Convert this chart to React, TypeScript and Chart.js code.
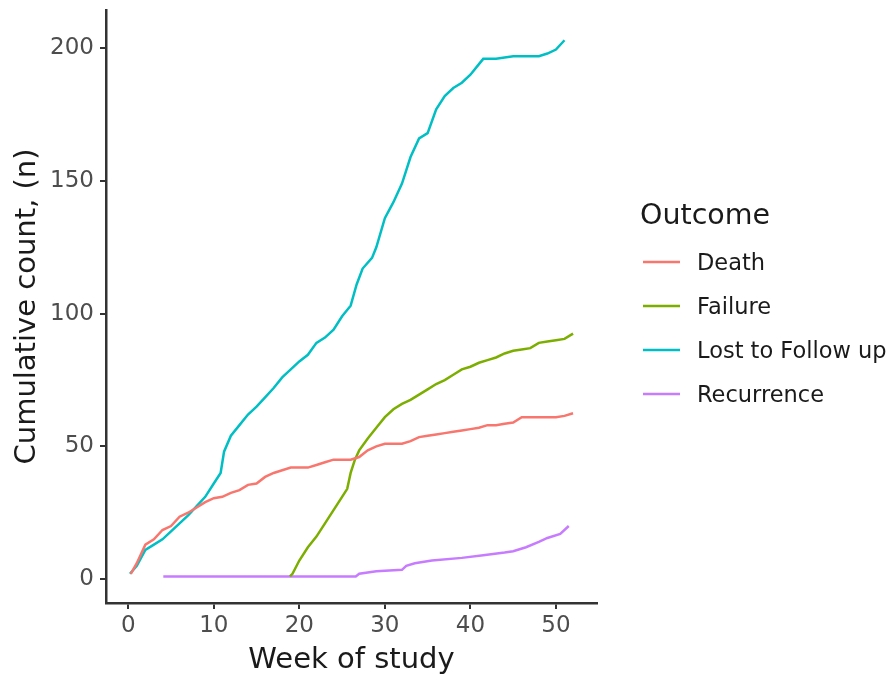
import React, { useEffect, useRef } from "react";
import { Chart, registerables } from "chart.js";

Chart.register(...registerables);

const deathWeeks = [0.3, 1, 2, 3, 4, 5, 6, 7, 8, 9, 10, 11, 12, 13, 14, 15, 16, 17, 18, 19, 20, 21, 22, 23, 24, 25, 26, 27, 28, 29, 30, 31, 32, 33, 34, 35, 36, 37, 38, 39, 40, 41, 42, 43, 44, 45, 46, 47, 48, 49, 50, 51, 52];
const deathCounts = [2, 6, 13, 15, 18.5, 20, 23.5, 25, 27, 29, 30.5, 31, 32.5, 33.5, 35.5, 36, 38.5, 40, 41, 42, 42, 42, 43, 44, 45, 45, 45, 46, 48.5, 50, 51, 51, 51, 52, 53.5, 54, 54.5, 55, 55.5, 56, 56.5, 57, 58, 58, 58.5, 59, 61, 61, 61, 61, 61, 61.5, 62.5];

const failureWeeks = [18.9, 19.2, 20, 21, 22, 23, 24, 25, 25.6, 26, 26.5, 27, 28, 29, 30, 31, 32, 33, 34, 35, 36, 37, 38, 39, 40, 41, 42, 43, 44, 45, 46, 47, 48, 49, 50, 51, 52];
const failureCounts = [1, 2, 7, 12, 16, 21, 26, 31, 34, 40, 45, 48.5, 53, 57, 61, 64, 66, 67.5, 69.5, 71.5, 73.5, 75, 77, 79, 80, 81.5, 82.5, 83.5, 85, 86, 86.5, 87, 89, 89.5, 90, 90.5, 92.5];

const lostWeeks = [0.2, 1, 2, 3, 4, 5, 6, 7, 8, 9, 10, 10.8, 11.2, 12, 13, 14, 15, 16, 17, 18, 19, 20, 21, 22, 23, 24, 25, 26, 26.7, 27.4, 28.5, 29, 30, 31, 32, 33, 34, 35, 36, 37, 38, 39, 40, 41, 41.5, 43, 44, 45, 46, 47, 48, 49, 50, 51];
const lostCounts = [2, 5, 11, 13, 15, 18, 21, 24, 27.5, 31, 36, 40, 48, 54, 58, 62, 65, 68.5, 72, 76, 79, 82, 84.5, 89, 91, 94, 99, 103, 111, 117, 121, 125, 136, 142, 149, 159, 166, 168, 177, 182, 185, 187, 190, 194, 196, 196, 196.5, 197, 197, 197, 197, 198, 199.5, 203];

const recurrenceWeeks = [4.1, 26.6, 27, 29, 32, 32.5, 33.5, 35.5, 39, 41.5, 44, 45, 46.5, 48, 49, 50.5, 51.5];
const recurrenceCounts = [1, 1, 2, 3, 3.5, 5, 6, 7, 8, 9, 10, 10.5, 12, 14, 15.5, 17, 20];

const seriesNames = ["Death", "Failure", "Lost to Follow up", "Recurrence"];
const seriesColors = ["#F8766D", "#7CAE00", "#00BFC4", "#C77CFF"];
const seriesWeeks = [deathWeeks, failureWeeks, lostWeeks, recurrenceWeeks];
const seriesCounts = [deathCounts, failureCounts, lostCounts, recurrenceCounts];

const xTicks = [0, 10, 20, 30, 40, 50];
const yTicks = [0, 50, 100, 150, 200];
const xTitle = "Week of study";
const yTitle = "Cumulative count, (n)";
const legendTitle = "Outcome";

const FONT = '"DejaVu Sans", "Noto Sans", sans-serif';

const legendPlugin = {
  id: "ggLegend",
  afterDraw(chart: any) {
    const ctx = chart.ctx;
    ctx.save();
    ctx.fillStyle = "#1a1a1a";
    ctx.textBaseline = "alphabetic";
    ctx.textAlign = "left";
    ctx.font = `28.5px ${FONT}`;
    ctx.fillText(legendTitle, 640, 224);
    ctx.font = `22.5px ${FONT}`;
    seriesNames.forEach((name, i) => {
      const y = 262 + i * 44;
      ctx.strokeStyle = seriesColors[i];
      ctx.lineWidth = 2.5;
      ctx.beginPath();
      ctx.moveTo(643, y);
      ctx.lineTo(680, y);
      ctx.stroke();
      ctx.fillText(name, 697, y + 8);
    });
    ctx.restore();
  },
};

export default function App() {
  const canvasRef = useRef<HTMLCanvasElement | null>(null);

  useEffect(() => {
    if (!canvasRef.current) return;
    const datasets = seriesNames.map((name, i) => ({
      label: name,
      data: seriesWeeks[i].map((w, j) => ({ x: w, y: seriesCounts[i][j] })),
      borderColor: seriesColors[i],
      backgroundColor: seriesColors[i],
      borderWidth: 2.5,
      pointRadius: 0,
      tension: 0,
      fill: false,
    }));

    const axisColor = "#333333";
    const chart = new Chart(canvasRef.current, {
      type: "line",
      data: { datasets },
      options: {
        animation: false,
        responsive: false,
        maintainAspectRatio: false,
        layout: { padding: { top: 10, right: 299, left: 0, bottom: 0 } },
        plugins: { legend: { display: false }, tooltip: { enabled: false } },
        scales: {
          x: {
            type: "linear",
            min: -2.6,
            max: 54.8,
            afterBuildTicks: (s: any) => {
              s.ticks = xTicks.map((v) => ({ value: v }));
            },
            afterFit: (s: any) => {
              s.height = 76;
              s.paddingLeft = 0;
              s.paddingRight = 0;
            },
            grid: { display: true, drawOnChartArea: false, drawTicks: true, tickLength: 6, color: axisColor, lineWidth: 2 },
            border: { display: true, color: axisColor, width: 2.5 },
            ticks: { font: { family: FONT, size: 23 }, color: "#4d4d4d", padding: 3, maxRotation: 0 },
            title: { display: true, text: xTitle, color: "#1a1a1a", font: { family: FONT, size: 29 }, padding: { top: 0, bottom: 1 } },
          },
          y: {
            type: "linear",
            min: -9,
            max: 214.4,
            afterBuildTicks: (s: any) => {
              s.ticks = yTicks.map((v) => ({ value: v }));
            },
            afterFit: (s: any) => {
              s.width = 106;
              s.paddingTop = 0;
              s.paddingBottom = 0;
            },
            grid: { display: true, drawOnChartArea: false, drawTicks: true, tickLength: 6, color: axisColor, lineWidth: 2 },
            border: { display: true, color: axisColor, width: 2.5 },
            ticks: { font: { family: FONT, size: 23 }, color: "#4d4d4d", padding: 6 },
            title: { display: true, text: yTitle, color: "#1a1a1a", font: { family: FONT, size: 29 }, padding: { top: 10, bottom: 0 } },
          },
        },
      },
      plugins: [legendPlugin],
    } as any);
    return () => chart.destroy();
  }, []);

  return (
    <div style={{ position: "absolute", left: 0, top: 0, width: 896, height: 679, background: "#ffffff" }}>
      <canvas ref={canvasRef} width={896} height={679} style={{ width: 896, height: 679, display: "block" }} />
    </div>
  );
}
